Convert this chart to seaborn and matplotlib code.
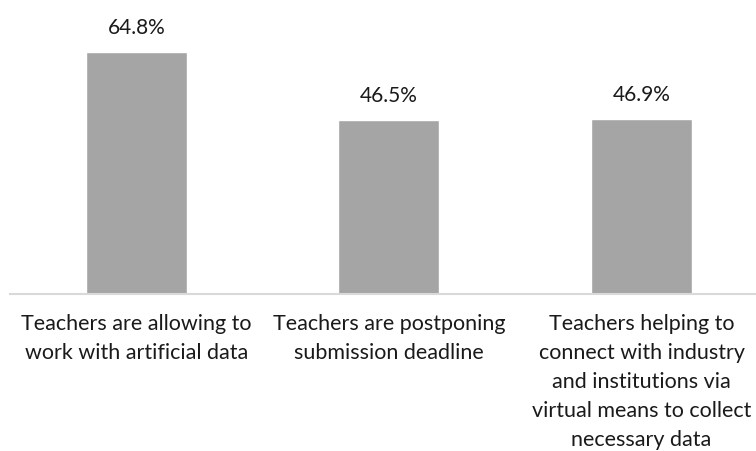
import matplotlib
matplotlib.use("Agg")
import matplotlib.pyplot as plt
import seaborn as sns
import pandas as pd

# Data
categories = [
    "Teachers are allowing to\nwork with artificial data",
    "Teachers are postponing\nsubmission deadline",
    "Teachers helping to\nconnect with industry\nand institutions via\nvirtual means to collect\nnecessary data",
]
values = [64.8, 46.5, 46.9]

df = pd.DataFrame({"category": categories, "value": values})

sns.set_style("white")
plt.rcParams["font.family"] = ["Lato", "DejaVu Sans"]

text_color = "#1a1a1a"

fig = plt.figure(figsize=(7.56, 4.51), dpi=100)
ax = fig.add_axes([10 / 756, 157.5 / 451, 746 / 756, 293.5 / 451])

sns.barplot(data=df, x="category", y="value", color="#a5a5a5",
            width=0.4, saturation=1, ax=ax)

for c in ax.containers:
    ax.bar_label(c, fmt="%.1f%%", padding=10, fontsize=15, color=text_color)

ax.set_xlim(-0.5, 2.453)
ax.set_ylim(0, 78.8)
ax.set_xlabel("")
ax.set_ylabel("")
ax.set_yticks([])
ax.tick_params(axis="x", length=0, pad=15, labelsize=15.5, labelcolor=text_color)
for lbl in ax.get_xticklabels():
    lbl.set_multialignment("center")
    lbl.set_linespacing(1.55)

for side in ["top", "right", "left"]:
    ax.spines[side].set_visible(False)
ax.spines["bottom"].set_color("#d9d9d9")
ax.spines["bottom"].set_linewidth(1.5)

fig.savefig("out.png", dpi=100)
